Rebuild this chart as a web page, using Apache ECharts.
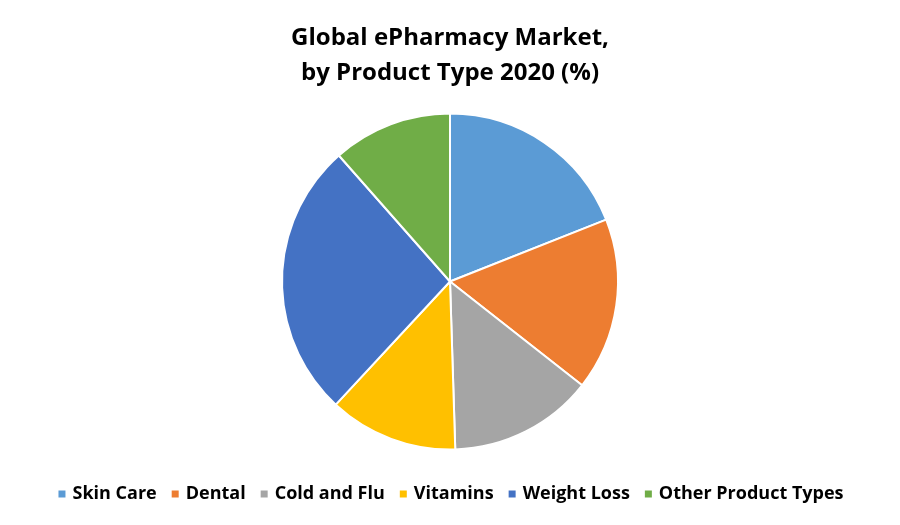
<!DOCTYPE html>
<html>
<head>
<meta charset="utf-8">
<script src="https://cdn.jsdelivr.net/npm/echarts@6/dist/echarts.min.js"></script>
<style>
  html, body { margin: 0; padding: 0; background: #fff; }
  #chart { width: 900px; height: 525px; }
</style>
</head>
<body>
<div id="chart"></div>
<script>
  // shares (%)
  const categories = ['Skin Care', 'Dental', 'Cold and Flu', 'Vitamins', 'Weight Loss', 'Other Product Types']
  const shares = [19.0, 16.6, 13.9, 12.4, 26.6, 11.5]
  const colors = ['#5B9BD5', '#ED7D31', '#A5A5A5', '#FFC000', '#4472C4', '#70AD47']

  const chart = echarts.init(document.getElementById('chart'))
  const option = {
    animation: false,
    color: colors,
    title: {
      text: 'Global ePharmacy Market,\nby Product Type 2020 (%)',
      left: 'center',
      top: 16,
      textStyle: {
        fontFamily: 'Open Sans',
        fontWeight: 'bold',
        fontSize: 24,
        lineHeight: 35,
        color: '#000'
      }
    },
    legend: {
      bottom: 17,
      left: 'center',
      icon: 'rect',
      itemWidth: 9,
      itemHeight: 9,
      itemGap: 13,
      textStyle: {
        fontFamily: 'Open Sans',
        fontWeight: 'bold',
        fontSize: 18,
        color: '#000',
        padding: [0, 0, 0, 1]
      },
      data: categories
    },
    series: [{
      type: 'pie',
      center: [450, 281.5],
      radius: 168,
      startAngle: 90,
      clockwise: true,
      label: { show: false },
      labelLine: { show: false },
      itemStyle: { borderColor: '#fff', borderWidth: 2 },
      data: categories.map((c, i) => ({ name: c, value: shares[i] }))
    }]
  }
  chart.setOption(option)
</script>
</body>
</html>
